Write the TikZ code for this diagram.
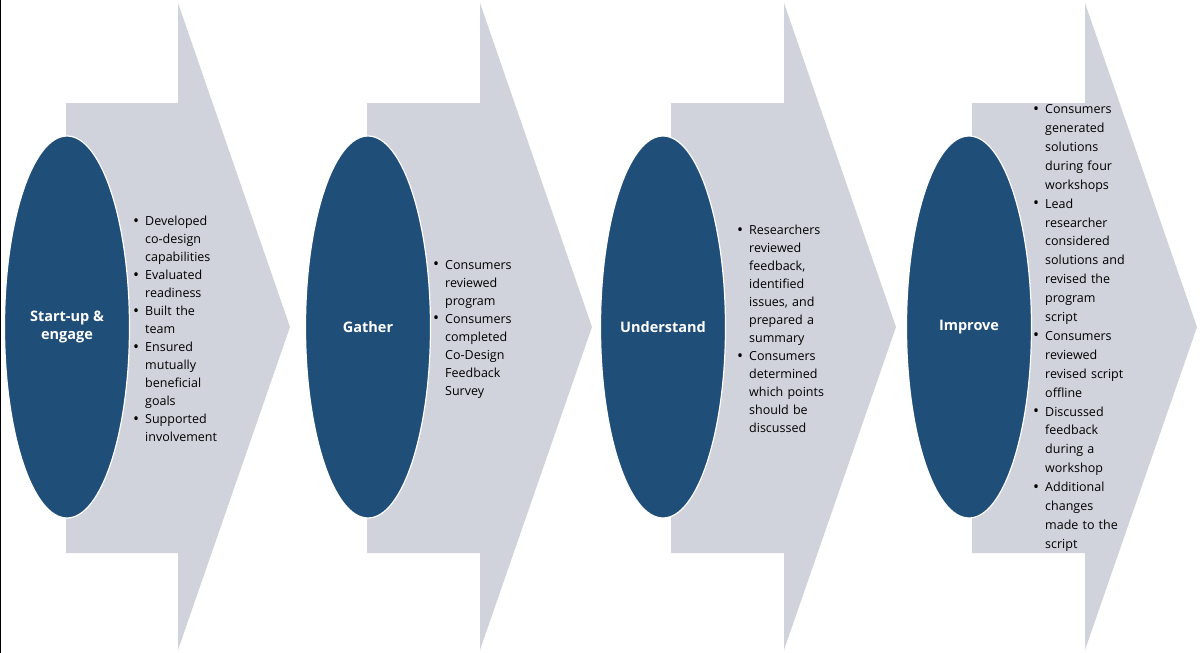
\documentclass[tikz,border=0pt]{standalone}
\usepackage{fontspec}
\setmainfont{Open Sans}
\newcommand{\itm}[1]{\hangindent=12pt\hangafter=1\noindent\makebox[12pt][l]{\raisebox{-0.5pt}{\fontsize{16}{18}\selectfont\textbullet}}#1\par}
\begin{document}
\begin{tikzpicture}[x=1pt,y=-1pt,
  arr/.style={fill=arrowgray,draw=none},
  ell/.style={ellipse,fill=navy,draw=white,line width=1.2pt,minimum width=125pt,minimum height=382pt,inner sep=0pt,text=white,font=\fontsize{14.5}{18}\selectfont\bfseries,align=center},
  txt/.style={anchor=west,text width=130pt,inner sep=0pt,font=\fontsize{12.5}{18}\selectfont,align=left}]
\definecolor{arrowgray}{HTML}{D0D3DB}
\definecolor{navy}{HTML}{1F4E79}
\usetikzlibrary{shapes.geometric}
\useasboundingbox (0,0) rectangle (1200,653);
\fill[white] (0,0) rectangle (1200,653);
\draw[black,line width=2pt] (0,0) -- (0,653);
\foreach \b/\h in {66/178,367/480,671/784,972/1085}{
  \path[arr] (\b,103) -- (\h,103) -- (\h,3) -- (\h+112,327) -- (\h,650) -- (\h,553) -- (\b,553) -- cycle;
}
\node[ell] (e1) at (67,327) {Start-up \&\\engage};
\node[ell] (e2) at (368,327) {Gather};
\node[ell] (e3) at (663,327) {Understand};
\node[ell] (e4) at (969,327) {Improve};
\node[txt] (t1) at (133,329) {\itm{Developed\newline co-design\newline capabilities}\itm{Evaluated\newline readiness}\itm{Built the\newline team}\itm{Ensured\newline mutually\newline beneficial\newline goals}\itm{Supported\newline involvement}};
\node[txt] (t2) at (433,329) {\itm{Consumers\newline reviewed\newline program}\itm{Consumers\newline completed\newline Co-Design\newline Feedback\newline Survey}};
\node[txt] (t3) at (737,329) {\itm{Researchers\newline reviewed\newline feedback,\newline identified\newline issues, and\newline prepared a\newline summary}\itm{Consumers\newline determined\newline which points\newline should be\newline discussed}};
\node[txt,font=\fontsize{12.5}{18.9}\selectfont] (t4) at (1033,328) {\itm{Consumers\newline generated\newline solutions\newline during four\newline workshops}\itm{Lead\newline researcher\newline considered\newline solutions and\newline revised the\newline program\newline script}\itm{Consumers\newline reviewed\newline revised script\newline offline}\itm{Discussed\newline feedback\newline during a\newline workshop}\itm{Additional\newline changes\newline made to the\newline script}};
\end{tikzpicture}
\end{document}
